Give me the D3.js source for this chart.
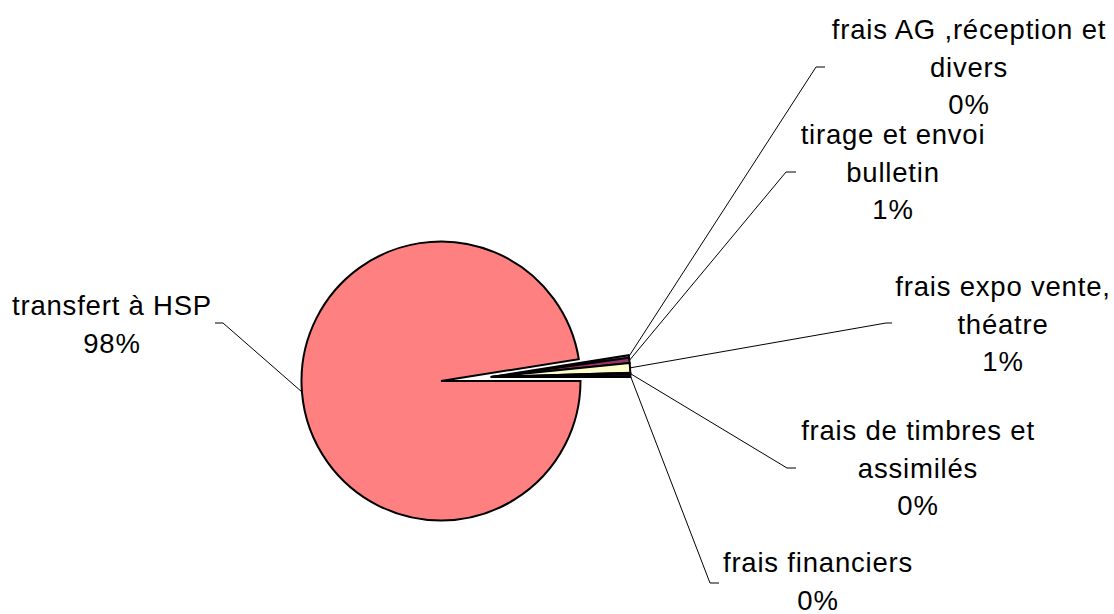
<!DOCTYPE html>
<html>
<head>
<meta charset="utf-8">
<script src="https://cdn.jsdelivr.net/npm/d3@7"></script>
<style>
  body { margin: 0; background: #fff; }
  text { font-family: "Liberation Sans", Arial, sans-serif; font-size: 27.5px; letter-spacing: 0.8px; fill: #000; }
</style>
</head>
<body>
<div id="chart"></div>
<script>
// slice names (\n = line break in label), shares in %
const categories = [
  "frais AG ,réception et\ndivers",
  "tirage et envoi\nbulletin",
  "frais expo vente,\nthéatre",
  "frais de timbres et\nassimilés",
  "frais financiers",
  "transfert à HSP"
];
const values = [0.3, 0.6, 1.1, 0.2, 0.3, 97.5];
const colors = ["#9999FF", "#993366", "#FFFFCC", "#CCFFFF", "#660066", "#FF8080"];
const exploded = [true, true, true, true, true, false];

// label layout: centre x, first baseline, elbow of leader line, end of leader line
const labelPos = [
  { x: 969, y: 39, ex: 816, ey: 67, tx: 825 },
  { x: 893, y: 144, ex: 786, ey: 172, tx: 796 },
  { x: 1003, y: 296, ex: 886, ey: 323, tx: 892 },
  { x: 918, y: 440, ex: 787, ey: 468, tx: 796 },
  { x: 818, y: 572, ex: 710, ey: 583, tx: 719 },
  { x: 112, y: 315, ex: 223, ey: 323, tx: 215 }
];

const width = 1114, height = 614;
const cx = 441, cy = 381, r = 139.5, explodeDist = 50, lineGap = 37.5;

const data = categories.map((c, i) => ({ name: c, value: values[i], color: colors[i], ex: exploded[i], pos: labelPos[i] }));
const total = d3.sum(values);

// start so the small slices end at 3 o'clock
const smallShare = d3.sum(data.filter(d => d.ex), d => d.value) / total;
const start = Math.PI / 2 - smallShare * 2 * Math.PI;

const pie = d3.pie().sort(null).value(d => d.value)
  .startAngle(start).endAngle(start + 2 * Math.PI);
const arcs = pie(data);

// exploded group is moved along its common bisector
const exArcs = arcs.filter(a => a.data.ex);
const mid = (exArcs[0].startAngle + exArcs[exArcs.length - 1].endAngle) / 2;
const off = [explodeDist * Math.sin(mid), -explodeDist * Math.cos(mid)];

const arc = d3.arc().innerRadius(0).outerRadius(r);

const svg = d3.select("#chart").append("svg")
  .attr("width", width).attr("height", height);

const g = svg.append("g").attr("transform", `translate(${cx},${cy})`);

g.selectAll("path")
  .data(arcs)
  .join("path")
    .attr("d", arc)
    .attr("transform", d => d.data.ex ? `translate(${off[0]},${off[1]})` : null)
    .attr("fill", d => d.data.color)
    .attr("stroke", "#000")
    .attr("stroke-width", 2)
    .attr("stroke-linejoin", "miter");

// leader lines
svg.append("g")
  .selectAll("polyline")
  .data(arcs)
  .join("polyline")
    .attr("fill", "none")
    .attr("stroke", "#000")
    .attr("stroke-width", 1)
    .attr("points", d => {
      const a = (d.startAngle + d.endAngle) / 2;
      const o = d.data.ex ? off : [0, 0];
      const px = cx + o[0] + r * Math.sin(a);
      const py = cy + o[1] - r * Math.cos(a);
      const p = d.data.pos;
      return `${px},${py} ${p.ex},${p.ey} ${p.tx},${p.ey}`;
    });

// labels
const lab = svg.append("g")
  .selectAll("text")
  .data(arcs)
  .join("text")
    .attr("text-anchor", "middle");

lab.each(function(d) {
  const lines = d.data.name.split("\n").concat([Math.round(d.data.value / total * 100) + "%"]);
  d3.select(this).selectAll("tspan")
    .data(lines)
    .join("tspan")
      .attr("x", d.data.pos.x)
      .attr("y", (t, i) => d.data.pos.y + i * lineGap)
      .text(t => t);
});
</script>
</body>
</html>
